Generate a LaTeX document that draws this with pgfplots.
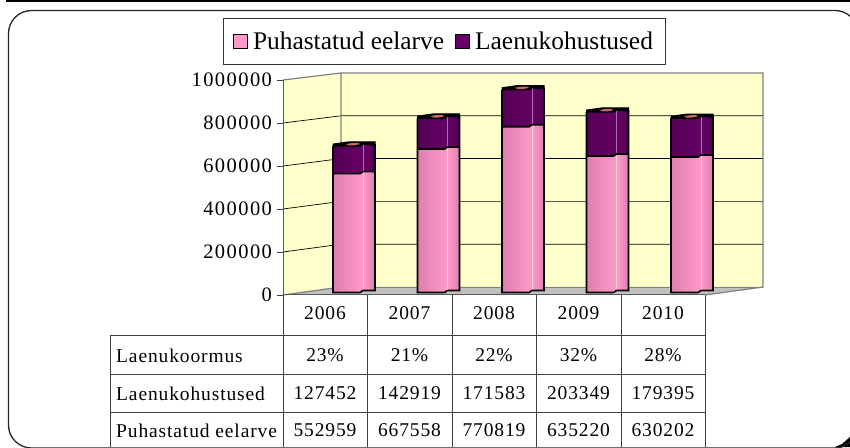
\documentclass[border=0pt]{standalone}
\usepackage{fontspec}
\usepackage{pgfplots}
\pgfplotsset{compat=1.18}
\setmainfont{Liberation Serif}
\newfontfamily\tabfont[LetterSpace=4.5]{Liberation Serif}
\newfontfamily\tickfont[LetterSpace=7]{Liberation Serif}
\newfontfamily\legfont{Liberation Serif}

\definecolor{wall}{HTML}{FFFFCC}
\definecolor{floorc}{HTML}{C0C0C0}
\definecolor{pinkm}{HTML}{FF99CC}
\definecolor{pinkd}{HTML}{DE7FAE}
\definecolor{purm}{HTML}{660066}
\definecolor{purd}{HTML}{540054}
\definecolor{capc}{HTML}{C86A68}

% one px in data units: x 1/84.5 year, y 4651.16; bars stand 3 px above the front axis
\newcommand{\PT}[3]{(\fpeval{#1+(#2)/84.5},\fpeval{#3})}
% one stacked segment: year, bottom value, top value, dark colour, mid colour, seam colour
\newcommand{\segment}[6]{%
  \edef\lo{\fpeval{#2+11500}}\edef\hi{\fpeval{#3+11500}}%
  \edef\lob{\fpeval{\lo+9302}}\edef\hib{\fpeval{\hi+9302}}%
  \addplot[forget plot,draw=none,left color=#4,right color=#5] coordinates {
    \PT{#1}{-21}{\lo} \PT{#1}{6}{\lo} \PT{#1}{9}{\lob} \PT{#1}{9}{\hib} \PT{#1}{6}{\hi} \PT{#1}{-21}{\hi}} --cycle;
  \addplot[forget plot,draw=none,left color=#5,right color=#4] coordinates {
    \PT{#1}{9}{\lob} \PT{#1}{21}{\lob} \PT{#1}{21}{\hib} \PT{#1}{9}{\hib}} --cycle;
  \addplot[forget plot,#6,line width=0.7pt] coordinates {\PT{#1}{9}{\lob} \PT{#1}{9}{\hib}};
  \addplot[forget plot,black,line width=1.6pt] coordinates {
    \PT{#1}{-21}{\hi} \PT{#1}{-21}{\lo} \PT{#1}{6}{\lo} \PT{#1}{9}{\lob} \PT{#1}{21}{\lob} \PT{#1}{21}{\hib}};
}
% whole bar: year, Puhastatud eelarve, Laenukohustused
\newcommand{\cylbar}[3]{%
  \edef\total{\fpeval{#2+#3}}%
  \segment{#1}{0}{#2}{pinkd}{pinkm}{pink!70!white}%
  \segment{#1}{#2}{\total}{purd}{purm}{purm!55!white}%
  \edef\ct{\fpeval{\total+11500}}%
  \edef\ca{\fpeval{\ct+5000}}\edef\cb{\fpeval{\ct+9302}}\edef\cc{\fpeval{\ct+20000}}%
  \edef\cd{\fpeval{\ct+3500}}\edef\ce{\fpeval{\ct+15000}}\edef\cf{\fpeval{\ct+10000}}%
  \addplot[forget plot,fill=black,draw=black,line width=1pt] coordinates {
    \PT{#1}{-21}{\ct} \PT{#1}{-21}{\cf} \PT{#1}{-6}{\cc} \PT{#1}{21}{\cc} \PT{#1}{21}{\ca} \PT{#1}{9}{\cb} \PT{#1}{6}{\ct}} --cycle;
  \addplot[forget plot,fill=capc,draw=none] coordinates {
    \PT{#1}{-8}{\cf} \PT{#1}{-2}{\ce} \PT{#1}{4}{\ce} \PT{#1}{6}{\cf} \PT{#1}{0}{\cd} \PT{#1}{-5}{\cd}} --cycle;
}

\begin{document}
\begin{tikzpicture}
\path[use as bounding box] (0,0) rectangle (850pt,447pt);
\clip (0,0) rectangle (850pt,447pt);

% frame and walls, in image pixels
\begin{scope}[x=1pt,y=-1pt,shift={(0pt,447pt)}]
  \fill[black] (6,0) rectangle (850,2.5);
  \fill[black] (835,447) -- (842,444) -- (850,437) -- (850,447) -- cycle;
  \draw[black!85,line width=1.3pt,rounded corners=23pt] (8.5,448) rectangle (858,10.5);
  \fill[wall] (283,80) -- (341,73) -- (341,287) -- (283,295) -- cycle;
  \fill[wall] (341,73) rectangle (763,287);
  \fill[floorc] (283,295) -- (341,287) -- (763,287) -- (705,295) -- cycle;
  \foreach \i in {1,2,3,4} {
    \draw[black,line width=0.7pt] (283,{295-43*\i}) -- (341,{287-42.8*\i}) -- (763,{287-42.8*\i});
  }
  \draw[black!50,line width=1.2pt] (283,80) -- (341,73) -- (763,73) -- (763,287) -- (705,295);
  \draw[black!50,line width=1.2pt] (341,73) -- (341,287) -- (283,295);
  \draw[black!50,line width=0.8pt] (341,287) -- (763,287);
\end{scope}

\begin{axis}[
  at={(283pt,152pt)}, anchor=south west,
  scale only axis, width=422pt, height=215pt,
  xmin=2005.15976, xmax=2010.15385, ymin=0, ymax=1000000,
  axis x line=bottom, axis y line=left,
  axis line style={-, black!65, line width=1pt},
  xtick=\empty,
  ytick={0,200000,400000,600000,800000,1000000},
  scaled y ticks=false,
  yticklabel style={/pgf/number format/fixed, /pgf/number format/1000 sep={},
    /pgf/number format/assume math mode=true, xshift=-1.5pt},
  tick label style={font=\tickfont\fontsize{20.5}{22}\selectfont},
  major tick length=6pt,
  tick style={black!75, line width=0.8pt},
  ytick align=outside,
  clip=false,
  legend columns=2,
  legend style={at={(0.3815,1.179)}, anchor=center, draw=black!80, line width=0.7pt,
    font=\legfont\fontsize{25.4}{27}\selectfont, inner xsep=10pt, inner ysep=11.5pt,
    /tikz/every odd column/.style={column sep=3pt},
    /tikz/every even column/.style={column sep=9pt}},
  legend image code/.code={\draw[#1,line width=1pt] (0pt,-7pt) rectangle (14pt,7pt);},
]
\addlegendimage{fill=pinkm,draw=black}
\addlegendentry{Puhastatud eelarve}
\addlegendimage{fill=purm,draw=black}
\addlegendentry{Laenukohustused}

\cylbar{2006}{552959}{127452}
\cylbar{2007}{667558}{142919}
\cylbar{2008}{770819}{171583}
\cylbar{2009}{635220}{203349}
\cylbar{2010}{630202}{179395}
\end{axis}

% data table under the plot
\begin{scope}[x=1pt,y=-1pt,shift={(0pt,447pt)}]
  \draw[black!75,line width=0.9pt] (283,295) -- (283,447);
  \foreach \x in {367,452,536,621,705} \draw[black!75,line width=0.9pt] (\x,295) -- (\x,447);
  \draw[black!75,line width=0.9pt] (110,335) -- (110,447);
  \foreach \y in {335,374,412} \draw[black!75,line width=0.9pt] (110,\y) -- (705,\y);
  \begin{scope}[every node/.style={font=\tabfont\fontsize{19.5}{21}\selectfont, inner sep=0pt, anchor=center}]
    \foreach \x/\a/\b/\c/\d in {325/2006/23\%/127452/552959, 409.5/2007/21\%/142919/667558,
        494/2008/22\%/171583/770819, 578.5/2009/32\%/203349/635220, 663/2010/28\%/179395/630202} {
      \node at (\x,313) {\a};
      \node at (\x,355) {\b};
      \node at (\x,393) {\c};
      \node at (\x,430) {\d};
    }
    \node[anchor=west] at (116,356) {Laenukoormus};
    \node[anchor=west] at (116,394) {Laenukohustused};
    \node[anchor=west] at (116,431) {Puhastatud eelarve};
  \end{scope}
\end{scope}
\end{tikzpicture}
\end{document}
